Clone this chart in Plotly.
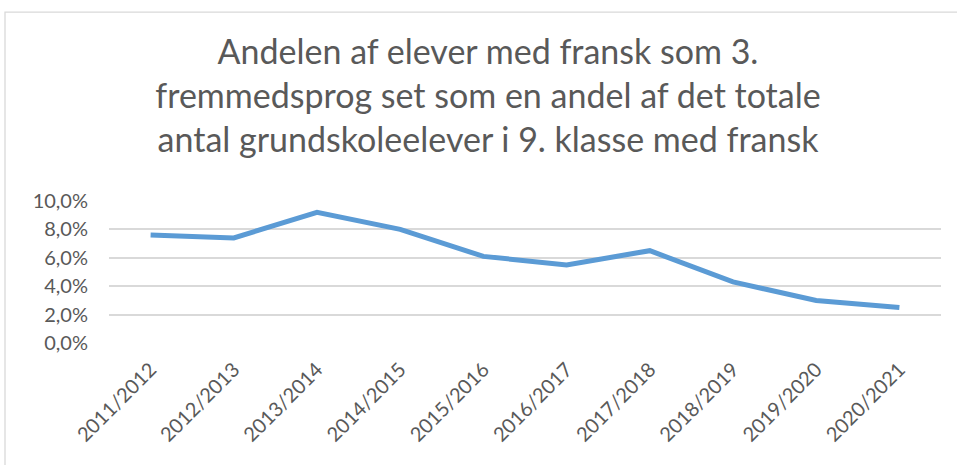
import plotly.graph_objects as go

categories = ["2011/2012", "2012/2013", "2013/2014", "2014/2015", "2015/2016",
              "2016/2017", "2017/2018", "2018/2019", "2019/2020", "2020/2021"]
values = [0.076, 0.074, 0.092, 0.080, 0.061, 0.055, 0.065, 0.043, 0.030, 0.025]
y_ticks = [0, 0.02, 0.04, 0.06, 0.08, 0.10]
y_tick_labels = ["0,0%", "2,0%", "4,0%", "6,0%", "8,0%", "10,0%"]
title_text = ("Andelen af elever med fransk som 3.<br>"
              "fremmedsprog set som en andel af det totale<br>"
              "antal grundskoleelever i 9. klasse med fransk")

W, H = 957, 465
L, R, T, B = 109, 941, 200.7, 343.3
pw, ph = R - L, B - T

fig = go.Figure()
fig.add_trace(go.Scatter(
    x=categories, y=values, mode="lines",
    line=dict(color="#5B9BD5", width=5),
    hoverinfo="skip", showlegend=False,
))

font_family = "Lato, 'Open Sans', sans-serif"
fig.update_layout(
    width=W, height=H,
    margin=dict(l=L, r=W - R, t=T, b=H - B, pad=0, autoexpand=False),
    paper_bgcolor="white", plot_bgcolor="white",
    font=dict(family=font_family, color="#595959"),
    title=dict(text=title_text, x=488 / W, xanchor="center",
               y=1 - 64 / H, yanchor="top", yref="container", automargin=False,
               font=dict(size=34, color="#595959", family=font_family)),
    xaxis=dict(type="category", range=[-0.5, 9.5], showgrid=False,
               showline=False, zeroline=False, tickangle=-45,
               tickfont=dict(size=20, color="#595959"), ticks="",
               automargin=False, ticklabelstandoff=10),
    yaxis=dict(range=[0, 0.10], tickvals=y_ticks, ticktext=y_tick_labels,
               showgrid=True, gridcolor="#D9D9D9", gridwidth=1.5,
               zeroline=False, showline=False, ticks="", automargin=False,
               ticklabelstandoff=20,
               tickfont=dict(size=20, color="#595959")),
    shapes=[dict(type="rect", xref="paper", yref="paper",
                 x0=(5 - L) / pw, x1=(W + 20 - L) / pw,
                 y0=(B - (H + 20)) / ph, y1=1 + (T - 11) / ph,
                 line=dict(color="#D9D9D9", width=1.3), layer="below")],
)

fig.write_html("out.html",
               config={"displayModeBar": False},
               post_script="document.body.style.margin='0';document.body.style.padding='0';")
